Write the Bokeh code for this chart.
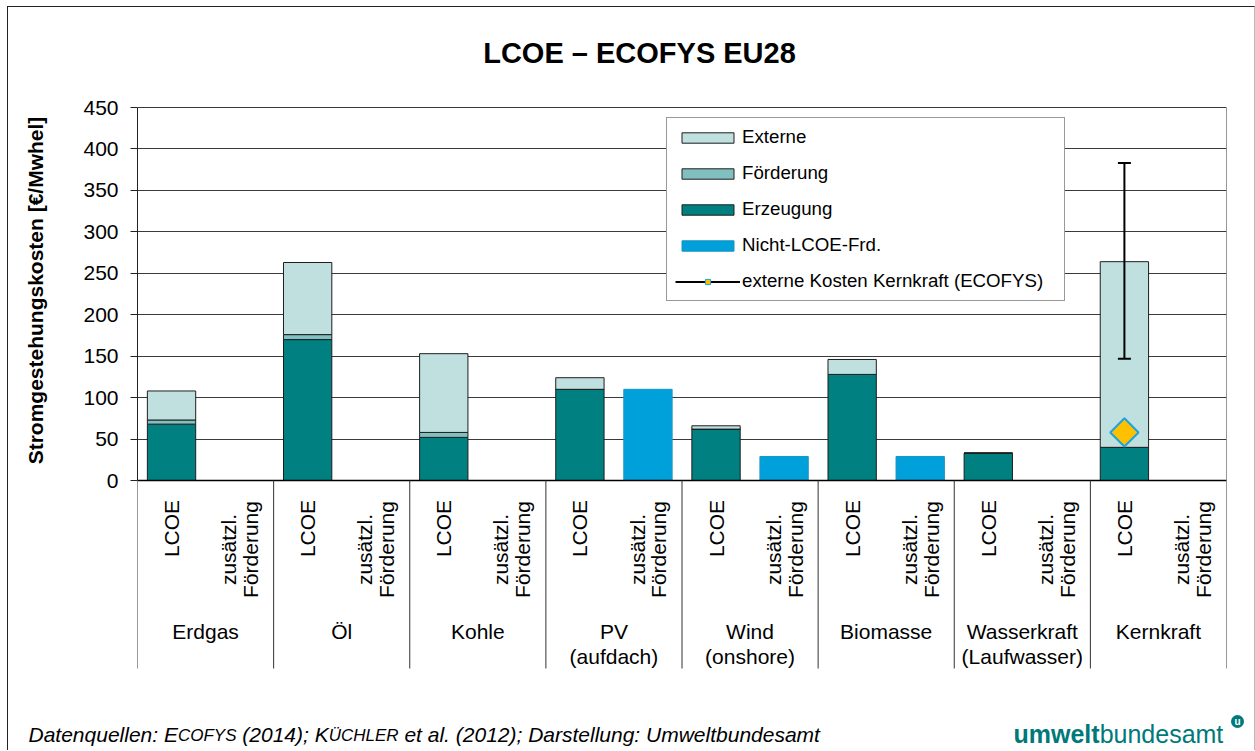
import math
from bokeh.plotting import figure
from bokeh.models import Range1d, FixedTicker, ColumnDataSource, Legend, LegendItem
from bokeh.layouts import column, row
from bokeh.embed import file_html
from bokeh.resources import INLINE
from bokeh.core.properties import value

# ---------------- data ----------------
groups = ["Erdgas", "Öl", "Kohle", "PV\n(aufdach)", "Wind\n(onshore)", "Biomasse",
          "Wasserkraft\n(Laufwasser)", "Kernkraft"]
sub_labels = ["LCOE", "zusätzl.\nFörderung"]
erzeugung = [68, 170, 52, 110, 62, 128, 33, 40]
foerderung = [5, 6, 6, 0, 0, 0, 0, 0]
externe = [35, 87, 95, 14, 4, 18, 0, 224]
nicht_lcoe = [0, 0, 0, 110, 29, 29, 0, 0]
kern_group = "Kernkraft"
kern_ext_low = [147]
kern_ext_high = [383]
kern_ext_ecofys = [58]
y_ticks = [0, 50, 100, 150, 200, 250, 300, 350, 400, 450]

title = "LCOE – ECOFYS EU28"
y_title = "Stromgestehungskosten [€/Mwhel]"
legend_labels = ["Externe", "Förderung", "Erzeugung", "Nicht-LCOE-Frd.",
                 "externe Kosten Kernkraft (ECOFYS)"]

# ---------------- styles / layout ----------------
FONT = "Liberation Sans"
C_EXT = "#C0E0DF"
C_FOE = "#80C0C0"
C_ERZ = "#008080"
C_NL = "#00A0DA"
EDGE = "#1e1e1e"

OX, OY = 8, 7                      # page position of the content
W, H_MAIN, H_FOOT = 1246, 665, 78
W_YT = 60                          # strip holding the y axis title
FL, FR, FT, FB = 137, 1226, 12, 670  # frame edges on the page
k = 373 / 450.0                    # pixel per unit (0 at page y=480)
y_top = (480 - FT) / k
y_bot = -(FB - 480) / k
slot_px = (FR - FL) / 16.0


def py(page_y):
    return (480 - page_y) / k


n = len(groups)
x_lcoe = [2 * i + 0.5 for i in range(n)]
x_zus = [2 * i + 1.5 for i in range(n)]
x_grp = [2 * i + 1.0 for i in range(n)]
bounds = [2 * i for i in range(n + 1)]

# ---------------- y title strip ----------------
yt = figure(width=W_YT, height=H_MAIN, x_range=Range1d(0, W_YT), y_range=Range1d(0, H_MAIN),
            x_axis_type=None, y_axis_type=None, toolbar_location=None, output_backend="svg",
            min_border=0, frame_align=False)
yt.outline_line_color = None
yt.grid.visible = False
yt.border_fill_color = "white"
yt.background_fill_color = "white"
yt.text(x=[35 - OX], y=[OY + H_MAIN - 290], text=[y_title], angle=math.pi / 2,
        text_align="center", text_baseline="middle", text_font=value(FONT),
        text_font_size="21px", text_font_style="bold", text_color="black")

# ---------------- main chart ----------------
p = figure(width=W - W_YT, height=H_MAIN, x_range=Range1d(0, 2 * n),
           y_range=Range1d(y_bot, y_top),
           x_axis_type=None, toolbar_location=None, output_backend="svg",
           min_border_left=FL - OX - W_YT, min_border_right=OX + W - FR,
           min_border_top=FT - OY, min_border_bottom=OY + H_MAIN - FB, frame_align=False)
p.outline_line_color = None
p.background_fill_color = "white"
p.border_fill_color = "white"
p.xgrid.visible = False

ticker = FixedTicker(ticks=y_ticks)
p.yaxis.ticker = ticker
p.yaxis.bounds = (0, 450)
p.yaxis.axis_line_color = "#222222"
p.yaxis.major_tick_line_color = "#222222"
p.yaxis.major_tick_out = 7
p.yaxis.major_tick_in = 0
p.yaxis.minor_tick_line_color = None
p.yaxis.major_label_text_font = FONT
p.yaxis.major_label_text_font_size = "21px"
p.yaxis.major_label_text_color = "black"
p.yaxis.major_label_standoff = 12
p.ygrid.ticker = ticker
p.ygrid.grid_line_color = "#3a3a3a"
p.ygrid.grid_line_width = 1

src = ColumnDataSource(dict(x=x_lcoe, erz=erzeugung, foe=foerderung, ext=externe))
stack = p.vbar_stack(["erz", "foe", "ext"], x="x", width=0.71, source=src,
                     fill_color=[C_ERZ, C_FOE, C_EXT], line_color=EDGE, line_width=1)
r_erz, r_foe, r_ext = stack
r_nl = p.vbar(x=x_zus, top=nicht_lcoe, width=0.71, fill_color=C_NL,
              line_color="#1a93c4", line_width=1)

# axis line at 0, right border, group separators
p.segment(x0=[0], y0=[0], x1=[2 * n], y1=[0], line_color="black", line_width=1.5)
p.segment(x0=[2 * n], y0=[0], x1=[2 * n], y1=[450], line_color="#333333", line_width=1)
sep_bottom = py(668)
p.segment(x0=bounds, y0=[0] * len(bounds), x1=bounds, y1=[sep_bottom] * len(bounds),
          line_color="#333333", line_width=1)

# Kernkraft external cost range + ECOFYS value
ki = groups.index(kern_group)
kx = [x_lcoe[ki]]
esrc = ColumnDataSource(dict(x=kx, lo=kern_ext_low, hi=kern_ext_high))
r_seg = p.segment(x0="x", y0="lo", x1="x", y1="hi", source=esrc, line_color="black", line_width=2)
cap = 6.5 / slot_px                 # half cap width in x units
p.segment(x0=[kx[0] - cap, kx[0] - cap], y0=[kern_ext_low[0], kern_ext_high[0]],
          x1=[kx[0] + cap, kx[0] + cap], y1=[kern_ext_low[0], kern_ext_high[0]],
          line_color="black", line_width=2)
r_dia_leg = p.scatter(x=kx, y=kern_ext_ecofys, marker="square", angle=math.pi / 4, size=6,
                      fill_color="#FFC000", line_color="#1CA3E0", line_width=1)
p.scatter(x=kx, y=kern_ext_ecofys, marker="square", angle=math.pi / 4, size=20,
          fill_color="#FFC000", line_color="#1CA3E0", line_width=2)

# category labels
p.text(x=x_lcoe, y=[py(528)] * n, text=[sub_labels[0]] * n, angle=math.pi / 2,
       text_align="center", text_baseline="middle", text_font=value(FONT),
       text_font_size="21px", text_color="black")
p.text(x=x_zus, y=[py(549)] * n, text=[sub_labels[1]] * n, angle=math.pi / 2,
       text_align="center", text_baseline="middle", text_font=value(FONT),
       text_font_size="21px", text_color="black", text_line_height=0.95)
p.text(x=x_grp, y=[py(619)] * n, text=groups, text_align="center",
       text_baseline="top", text_font=value(FONT), text_font_size="21px",
       text_color="black", text_line_height=1.1)

# title
p.text(x=[(639 - FL) / slot_px], y=[py(52)], text=[title], text_align="center",
       text_baseline="middle", text_font=value(FONT), text_font_size="29px",
       text_font_style="bold", text_color="black")

legend = Legend(items=[
    LegendItem(label=value(legend_labels[0]), renderers=[r_ext]),
    LegendItem(label=value(legend_labels[1]), renderers=[r_foe]),
    LegendItem(label=value(legend_labels[2]), renderers=[r_erz]),
    LegendItem(label=value(legend_labels[3]), renderers=[r_nl]),
    LegendItem(label=value(legend_labels[4]), renderers=[r_seg, r_dia_leg]),
], location=(666 - FL, FB - 301))
legend.label_text_font = FONT
legend.label_text_font_size = "18.7px"
legend.label_text_color = "black"
legend.label_height = 20
legend.label_width = 314
legend.label_standoff = 2
legend.glyph_height = 13
legend.glyph_width = 65
legend.spacing = 14
legend.padding = 8
legend.margin = 0
legend.border_line_color = "#333333"
legend.border_line_width = 1
legend.background_fill_color = "white"
legend.background_fill_alpha = 1
p.add_layout(legend)

# ---------------- footer ----------------
f = figure(width=W, height=H_FOOT, x_range=Range1d(0, W), y_range=Range1d(0, H_FOOT),
           x_axis_type=None, y_axis_type=None, toolbar_location=None, output_backend="svg",
           min_border=0, frame_align=False)
f.outline_line_color = None
f.grid.visible = False
f.border_fill_color = "white"
f.background_fill_color = "white"

CW = {' ': 278, '(': 333, ')': 333, ';': 278, ':': 278, '.': 278,
      'A': 667, 'C': 722, 'D': 722, 'E': 667, 'F': 611, 'H': 722, 'K': 667, 'L': 556,
      'O': 778, 'R': 722, 'S': 667, 'U': 722, 'Ü': 722, 'Y': 667,
      'a': 556, 'b': 556, 'd': 556, 'e': 556, 'g': 556, 'l': 222, 'm': 833, 'n': 556,
      'q': 556, 'r': 333, 's': 500, 't': 278, 'u': 556, 'w': 722}


def tw(s, size):
    return sum(CW.get(c, 556) for c in s) / 1000.0 * size


def fy(page_y):
    return OY + H_MAIN + H_FOOT - page_y


BIG, SMALL = 21, 17
pieces = [("Datenquellen: ", BIG), ("E", BIG), ("COFYS", SMALL), (" (2014); ", BIG), ("K", BIG),
          ("ÜCHLER", SMALL), (" et al. (2012); Darstellung: Umweltbundesamt", BIG)]
fx = 28.0 - OX
for s, sz in pieces:
    lead = len(s) - len(s.lstrip(" "))
    # keep the baselines of the small caps on the line of the big letters
    yc = 734 + 0.3465 * (BIG - sz)
    f.text(x=[fx + tw(" " * lead, sz)], y=[fy(yc)], text=[s.strip()], text_align="left",
           text_baseline="middle", text_font=value(FONT), text_font_size=f"{sz}px",
           text_font_style="italic", text_color="black")
    fx += tw(s, sz)

LOGO = "#00797A"
lx = 1013.0 - OX
f.text(x=[lx], y=[fy(733)], text=["umwelt"], text_align="left", text_baseline="middle",
       text_font=value(FONT), text_font_size="25px", text_font_style="bold", text_color=LOGO)
lx2 = lx + (611 + 889 + 778 + 556 + 278 + 333) / 1000.0 * 25
f.text(x=[lx2], y=[fy(733)], text=["bundesamt"], text_align="left", text_baseline="middle",
       text_font=value(FONT), text_font_size="25px", text_color=LOGO)
f.scatter(x=[1237 - OX], y=[fy(721)], size=13, marker="circle", fill_color=LOGO, line_color=None)
f.text(x=[1237 - OX], y=[fy(721)], text=["u"], text_align="center",
       text_baseline="middle", text_font=value(FONT), text_font_size="10px",
       text_font_style="bold", text_color="white")

layout = column(row(yt, p, spacing=0), f, spacing=0,
                styles={"margin-left": "7px", "margin-top": "6px",
                        "border-left": "1px solid #222", "border-top": "1px solid #222",
                        "border-right": "1px solid #bbb"})

open("out.html", "w").write(file_html(layout, INLINE))
